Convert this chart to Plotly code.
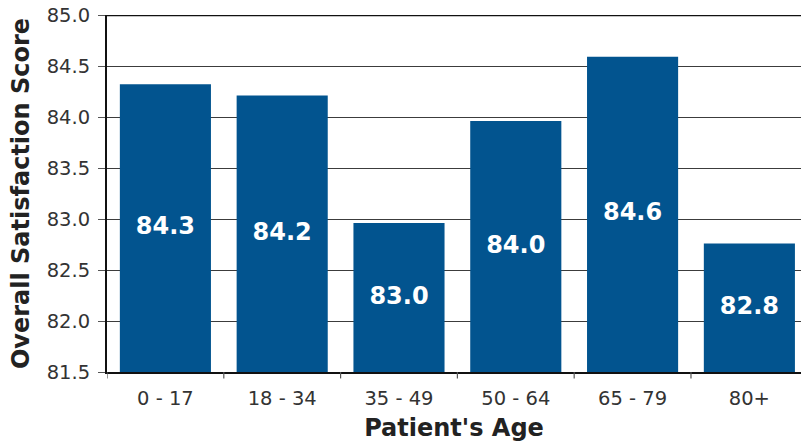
import plotly.graph_objects as go

# Mean overall satisfaction score by patient age group
age_groups = ["0 - 17", "18 - 34", "35 - 49", "50 - 64", "65 - 79", "80+"]
scores = [84.32, 84.21, 82.96, 83.96, 84.59, 82.76]
y_ticks = [81.5, 82.0, 82.5, 83.0, 83.5, 84.0, 84.5, 85.0]
y_floor = 81.5

BAR_COLOR = "#02548F"
FONT = "DejaVu Sans"

xs = list(range(len(age_groups)))

fig = go.Figure()
fig.add_trace(
    go.Bar(
        x=xs,
        y=scores,
        width=0.78,
        marker=dict(color=BAR_COLOR, line=dict(width=0)),
        hovertemplate="%{y:.2f}<extra></extra>",
    )
)

# Value labels centred in the visible part of each bar
fig.add_trace(
    go.Scatter(
        x=xs,
        y=[(y_floor + v) / 2 for v in scores],
        mode="text",
        text=[f"{v:.1f}" for v in scores],
        textposition="middle center",
        textfont=dict(family=FONT, size=24, color="white", weight="bold"),
        hoverinfo="skip",
    )
)

fig.update_layout(
    width=801,
    height=446,
    margin=dict(l=107, r=0, t=15, b=74),
    paper_bgcolor="white",
    plot_bgcolor="white",
    showlegend=False,
    font=dict(family=FONT, color="#333333"),
    xaxis=dict(
        range=[-0.5, 5.442],
        tickmode="array",
        tickvals=xs,
        ticktext=age_groups,
        tickfont=dict(size=19.5, color="#333333"),
        ticklabelstandoff=8,
        showgrid=False,
        showline=True,
        linecolor="#111111",
        linewidth=2,
        ticks="",
        zeroline=False,
        title=dict(text="Patient's Age", font=dict(size=24, color="#222222", weight="bold"), standoff=10),
    ),
    yaxis=dict(
        range=[y_floor, 85.0],
        tickmode="array",
        tickvals=y_ticks,
        ticktext=[f"{t:.1f}" for t in y_ticks],
        tickfont=dict(size=19.5, color="#333333"),
        ticklabelstandoff=4,
        showgrid=True,
        gridcolor="#3c3c3c",
        gridwidth=1.2,
        showline=True,
        linecolor="#111111",
        linewidth=2,
        ticks="outside",
        ticklen=7,
        tickcolor="#555555",
        tickwidth=1.2,
        zeroline=False,
        title=dict(text="Overall Satisfaction Score", font=dict(size=24, color="#222222", weight="bold"), standoff=10),
    ),
)

# Category boundary tick marks below the x axis
for k in range(len(age_groups)):
    fig.add_shape(
        type="line", xref="x", yref="paper",
        x0=k - 0.5, x1=k - 0.5, y0=0, y1=-0.018,
        line=dict(color="#555555", width=1.2),
    )

# Heavy frame line along the top of the plot
fig.add_shape(
    type="line", xref="paper", yref="y",
    x0=0, x1=1, y0=85.0, y1=85.0,
    line=dict(color="#111111", width=2.5),
)

fig.write_html("out.html")
